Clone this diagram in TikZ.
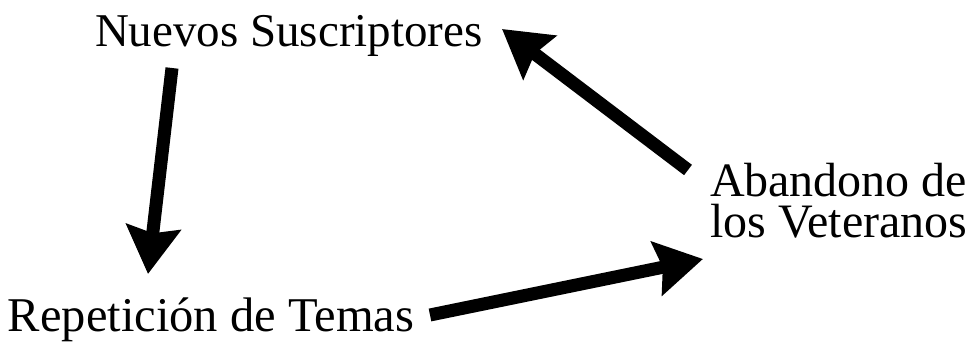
\documentclass[tikz,border=0pt]{standalone}
\usepackage{fontspec}
\setmainfont{Liberation Serif}
\usetikzlibrary{arrows.meta}
\tikzset{
  lbl/.style={inner sep=0pt, outer sep=0pt},
  bigarrow/.style={line width=13pt, line cap=butt,
    -{Stealth[length=47pt, width=54pt, inset=6pt]}}
}
\begin{document}
\begin{tikzpicture}[x=1pt, y=-1pt]
\useasboundingbox (0,0) rectangle (967,347);
\node[lbl, anchor=base west, font=\fontsize{47}{41}\selectfont] (nuevos) at (95,47) {Nuevos Suscriptores};
\node[lbl, anchor=base west, font=\fontsize{48.5}{41}\selectfont] (repeticion) at (8,332) {Repetición de Temas};
\node[lbl, anchor=north west, align=left, font=\fontsize{48}{41}\selectfont] (abandono) at (710,163) {Abandono de\\los Veteranos};
\draw[bigarrow] ([shift={(77,21)}]nuevos.base west) -- ([shift={(140,-58)}]repeticion.base west);
\draw[bigarrow] ([shift={(422,-17)}]repeticion.base west) -- ([shift={(-7,96)}]abandono.north west);
\draw[bigarrow] ([shift={(-22,7)}]abandono.north west) -- ([shift={(407,-18)}]nuevos.base west);
\end{tikzpicture}
\end{document}
